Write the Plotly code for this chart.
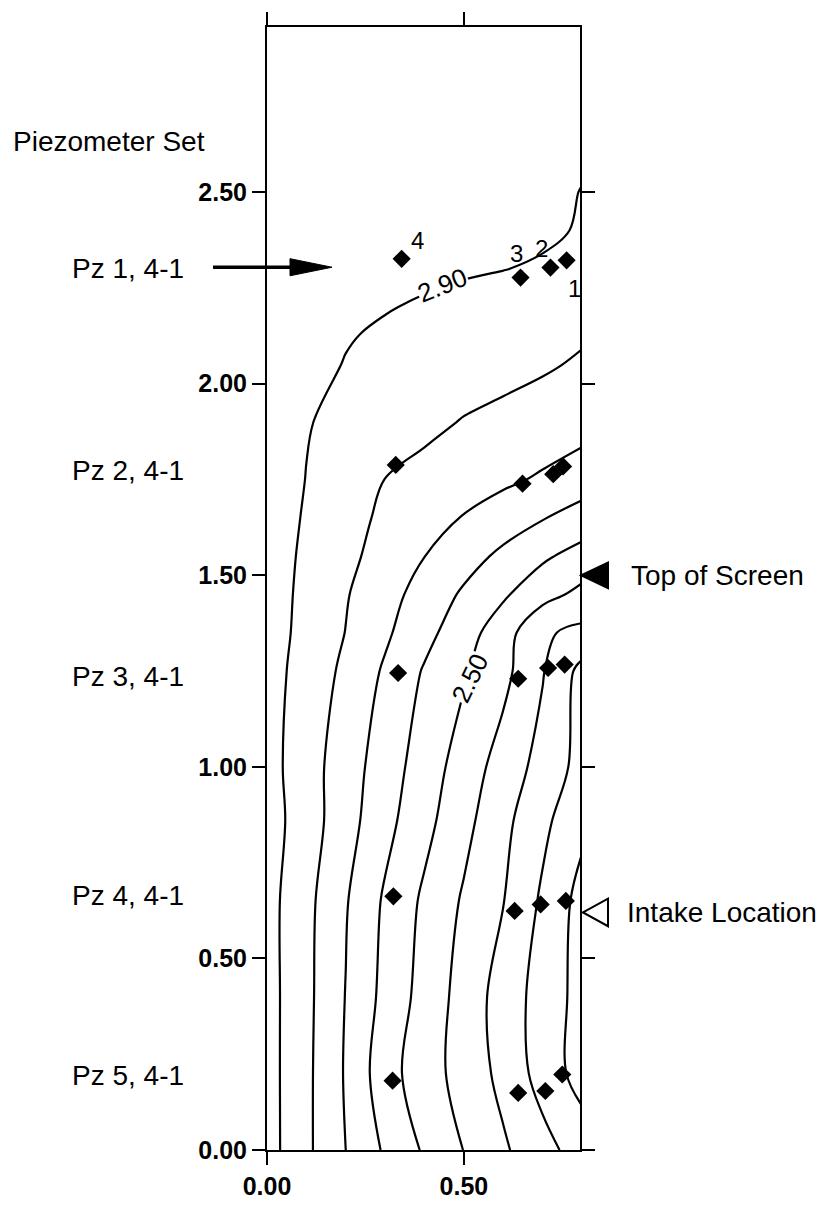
import plotly.graph_objects as go

# Hydraulic head (ft) over the section; rows follow Y_GRID, columns follow X_GRID
X_GRID = [0.0, 0.1, 0.2, 0.3, 0.4, 0.5, 0.6, 0.7, 0.8]
Y_GRID = [0.0, 0.2, 0.4, 0.65, 0.86, 1.0, 1.25, 1.35, 1.45, 1.55,
          1.65, 1.75, 1.9, 2.05, 2.13, 2.2, 2.3, 2.4, 2.5, 2.6, 3.0]
HEAD = [
    [2.940, 2.820, 2.700, 2.587, 2.488, 2.398, 2.314, 2.234, 2.155],
    [2.938, 2.822, 2.691, 2.542, 2.444, 2.363, 2.272, 2.161, 2.060],
    [2.937, 2.825, 2.697, 2.571, 2.463, 2.362, 2.257, 2.159, 2.065],
    [2.935, 2.828, 2.708, 2.586, 2.482, 2.388, 2.303, 2.184, 2.065],
    [2.944, 2.849, 2.740, 2.631, 2.530, 2.430, 2.327, 2.224, 2.125],
    [2.938, 2.843, 2.748, 2.650, 2.552, 2.455, 2.358, 2.264, 2.166],
    [2.939, 2.861, 2.779, 2.687, 2.591, 2.512, 2.429, 2.307, 2.170],
    [2.944, 2.871, 2.798, 2.716, 2.630, 2.543, 2.444, 2.314, 2.275],
    [2.946, 2.876, 2.807, 2.736, 2.662, 2.586, 2.514, 2.433, 2.375],
    [2.944, 2.884, 2.824, 2.763, 2.701, 2.640, 2.579, 2.517, 2.460],
    [2.949, 2.891, 2.834, 2.782, 2.738, 2.695, 2.650, 2.605, 2.565],
    [2.955, 2.898, 2.848, 2.799, 2.772, 2.745, 2.719, 2.687, 2.642],
    [2.960, 2.905, 2.877, 2.849, 2.822, 2.795, 2.778, 2.762, 2.745],
    [2.965, 2.930, 2.896, 2.879, 2.861, 2.844, 2.827, 2.810, 2.790],
    [2.968, 2.940, 2.907, 2.888, 2.874, 2.859, 2.843, 2.827, 2.810],
    [2.970, 2.950, 2.925, 2.905, 2.890, 2.875, 2.860, 2.845, 2.828],
    [2.975, 2.960, 2.945, 2.930, 2.920, 2.910, 2.902, 2.890, 2.850],
    [2.975, 2.970, 2.960, 2.950, 2.940, 2.930, 2.920, 2.915, 2.893],
    [2.975, 2.970, 2.965, 2.960, 2.955, 2.950, 2.940, 2.930, 2.897],
    [2.975, 2.970, 2.965, 2.960, 2.955, 2.950, 2.945, 2.935, 2.915],
    [2.975, 2.975, 2.970, 2.965, 2.960, 2.955, 2.950, 2.940, 2.930],
]
CONTOUR_START, CONTOUR_END, CONTOUR_STEP = 2.1, 2.9, 0.1

# Labelled contour values and where their labels sit
CONTOUR_LABELS = ["2.90", "2.50"]
CONTOUR_LABEL_X = [0.447, 0.515]
CONTOUR_LABEL_Y = [2.258, 1.233]
CONTOUR_LABEL_ANGLE = [-22, -64]

# Piezometer tips (numbered 4, 3, 2, 1 from left) in five sets
SET_NAMES = ["Pz 1, 4-1", "Pz 2, 4-1", "Pz 3, 4-1", "Pz 4, 4-1", "Pz 5, 4-1"]
SET_LEVELS = [2.300, 1.774, 1.236, 0.664, 0.195]
TIP_X = [
    [0.342, 0.644, 0.720, 0.761],
    [0.327, 0.649, 0.727, 0.752],
    [0.333, 0.638, 0.714, 0.756],
    [0.321, 0.629, 0.695, 0.759],
    [0.319, 0.638, 0.707, 0.750],
]
TIP_Y = [
    [2.326, 2.277, 2.303, 2.322],
    [1.788, 1.739, 1.764, 1.784],
    [1.245, 1.230, 1.258, 1.267],
    [0.662, 0.624, 0.641, 0.650],
    [0.181, 0.149, 0.154, 0.197],
]
TIP_NUMBERS = ["4", "3", "2", "1"]
TIP_NUMBER_X = [0.381, 0.633, 0.697, 0.782]
TIP_NUMBER_Y = [2.374, 2.341, 2.354, 2.249]

# Well features marked on the right side
TOP_OF_SCREEN = 1.50
INTAKE_LOCATION = 0.62

X_TICKS = [0.0, 0.5]
Y_TICKS = [0.0, 0.5, 1.0, 1.5, 2.0, 2.5]
X_MAX, Y_MAX = 0.795, 2.931

FONT = "Liberation Sans, Arial, sans-serif"
W, H = 824, 1212
M_L, M_R, M_T, M_B = 267, 244, 21, 48
PLOT_W = W - M_L - M_R
PX_PER_Y = (H - M_T - M_B) / Y_MAX


def paper_x(px):
    """Horizontal page pixel -> paper fraction of the plot area."""
    return (px - M_L) / PLOT_W


fig = go.Figure()

fig.add_trace(go.Contour(
    x=X_GRID, y=Y_GRID, z=HEAD,
    contours=dict(start=CONTOUR_START, end=CONTOUR_END, size=CONTOUR_STEP,
                  coloring="none", showlabels=False),
    line=dict(color="black", width=2.2, smoothing=1),
    showscale=False, hoverinfo="skip",
))

tip_x = [v for row in TIP_X for v in row]
tip_y = [v for row in TIP_Y for v in row]
fig.add_trace(go.Scatter(
    x=tip_x, y=tip_y, mode="markers",
    marker=dict(symbol="diamond", size=14, color="black"),
    showlegend=False, hoverinfo="skip",
))

annotations = []
for text, x, y, ang in zip(CONTOUR_LABELS, CONTOUR_LABEL_X, CONTOUR_LABEL_Y, CONTOUR_LABEL_ANGLE):
    annotations.append(dict(x=x, y=y, xref="x", yref="y", text=text, showarrow=False,
                            textangle=ang, bgcolor="white", borderpad=0,
                            font=dict(family=FONT, size=26, color="black")))
for text, x, y in zip(TIP_NUMBERS, TIP_NUMBER_X, TIP_NUMBER_Y):
    annotations.append(dict(x=x, y=y, xref="x", yref="y", text=text, showarrow=False,
                            font=dict(family=FONT, size=24, color="black")))

annotations.append(dict(x=paper_x(11), y=2.631, xref="paper", yref="y", xanchor="left",
                        text="Piezometer Set", showarrow=False,
                        font=dict(family=FONT, size=28, color="black")))
for name, lvl in zip(SET_NAMES, SET_LEVELS):
    annotations.append(dict(x=paper_x(70), y=lvl, xref="paper", yref="y", xanchor="left",
                            text=name, showarrow=False,
                            font=dict(family=FONT, size=28, color="black")))
annotations.append(dict(x=paper_x(629), y=TOP_OF_SCREEN, xref="paper", yref="y",
                        xanchor="left", text="Top of Screen", showarrow=False,
                        font=dict(family=FONT, size=28, color="black")))
annotations.append(dict(x=paper_x(625), y=INTAKE_LOCATION, xref="paper", yref="y",
                        xanchor="left", text="Intake Location", showarrow=False,
                        font=dict(family=FONT, size=28, color="black")))

shapes = []
# pointer to the first piezometer set
arrow_y = 2.304
head_half = 8.7 / PX_PER_Y
shapes.append(dict(type="line", xref="paper", yref="y",
                   x0=paper_x(213), x1=paper_x(300), y0=arrow_y, y1=arrow_y,
                   line=dict(color="black", width=3.5)))
shapes.append(dict(type="path", xref="paper", yref="y",
                   path=(f"M {paper_x(290)},{arrow_y + head_half} L {paper_x(332)},{arrow_y} "
                         f"L {paper_x(290)},{arrow_y - head_half} Z"),
                   fillcolor="black", line=dict(color="black", width=1)))


def side_triangle(level, x_tip, x_base, half_px, filled):
    half = half_px / PX_PER_Y
    return dict(type="path", xref="paper", yref="y",
                path=(f"M {paper_x(x_tip)},{level} L {paper_x(x_base)},{level + half} "
                      f"L {paper_x(x_base)},{level - half} Z"),
                fillcolor="black" if filled else "white",
                line=dict(color="black", width=2))


shapes.append(side_triangle(TOP_OF_SCREEN, 581, 608, 13, True))
shapes.append(side_triangle(INTAKE_LOCATION, 583, 608, 14, False))

axis_common = dict(showgrid=False, zeroline=False, showline=True, linecolor="black",
                   linewidth=2, mirror="ticks", ticks="outside", ticklen=13,
                   tickwidth=2, tickcolor="black",
                   tickfont=dict(family=FONT, size=25, color="black", weight="bold"))

fig.update_layout(
    width=W, height=H,
    margin=dict(l=M_L, r=M_R, t=M_T, b=M_B),
    paper_bgcolor="white", plot_bgcolor="white",
    showlegend=False,
    xaxis=dict(range=[0, X_MAX], tickvals=X_TICKS,
               ticktext=[f"{v:.2f}" for v in X_TICKS], **axis_common),
    yaxis=dict(range=[0, Y_MAX], tickvals=Y_TICKS,
               ticktext=[f"{v:.2f}" for v in Y_TICKS], **axis_common),
    annotations=annotations,
    shapes=shapes,
)

fig.write_html("out.html")
